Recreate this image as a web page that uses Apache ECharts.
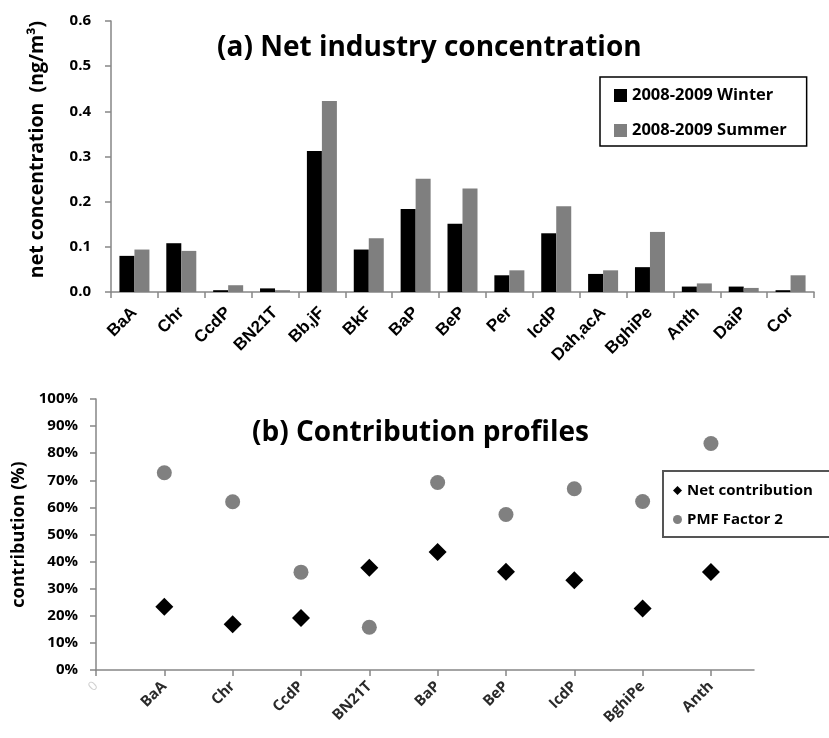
<!DOCTYPE html>
<html>
<head>
<meta charset="utf-8">
<script src="https://cdn.jsdelivr.net/npm/echarts@6/dist/echarts.min.js"></script>
<style>
html,body{margin:0;padding:0;background:#fff;}
#main{width:829px;height:738px;}
</style>
</head>
<body>
<div id="main"></div>
<script>
// ---- Data: panel (a) ----
const compoundsA = ['BaA','Chr','CcdP','BN21T','Bb,jF','BkF','BaP','BeP','Per','IcdP','Dah,acA','BghiPe','Anth','DaiP','Cor'];
const winter = [0.080,0.108,0.004,0.008,0.312,0.094,0.184,0.151,0.037,0.130,0.040,0.055,0.012,0.012,0.004];
const summer = [0.094,0.091,0.015,0.004,0.423,0.119,0.251,0.229,0.048,0.190,0.048,0.133,0.019,0.009,0.037];
const yTicksA = [0,0.1,0.2,0.3,0.4,0.5,0.6];

// ---- Data: panel (b) ----
const compoundsB = ['BaA','Chr','CcdP','BN21T','BaP','BeP','IcdP','BghiPe','Anth'];
const netContribution = [23.3,16.9,19.2,37.7,43.5,36.3,33.1,22.7,36.2];
const pmfFactor2 = [72.8,62.1,36.1,15.8,69.2,57.4,66.9,62.2,83.6];

const F = '"Open Sans", sans-serif';
const FA = '"Liberation Sans", Arial, sans-serif';
const axisGray = '#868686';

const chart = echarts.init(document.getElementById('main'), null, {renderer:'canvas'});

const xPos = compoundsB.map((_, i) => i + 1);
const tickVals = [0].concat(xPos);

chart.setOption({
  backgroundColor: '#ffffff',
  animation: false,
  title: [
    {text: '(a) Net industry concentration', left: 212, top: 29,
     textStyle: {fontFamily: F, fontWeight: 'bold', fontSize: 28, color: '#000'}},
    {text: '(b) Contribution profiles', left: 247, top: 414,
     textStyle: {fontFamily: F, fontWeight: 'bold', fontSize: 28, color: '#000'}}
  ],
  legend: [
    {data: ['2008-2009 Winter','2008-2009 Summer'],
     orient: 'vertical', left: 600, top: 77,
     padding: [10, 20, 7, 14], itemGap: 18, itemWidth: 13, itemHeight: 13,
     borderColor: '#000', borderWidth: 1.5,
     textStyle: {fontFamily: F, fontWeight: 'bold', fontSize: 16.5, color: '#000'},
     icon: 'rect'},
    {data: [{name:'Net contribution', icon:'diamond'},{name:'PMF Factor 2', icon:'circle'}],
     orient: 'vertical', left: 663, top: 471,
     padding: [12, 30, 10, 10], itemGap: 14, itemWidth: 9, itemHeight: 9,
     borderColor: '#555', borderWidth: 2,
     textStyle: {fontFamily: F, fontWeight: 'bold', fontSize: 15, color: '#000'}}
  ],
  grid: [
    {left: 111, right: 15, top: 21, bottom: 446},
    {left: 96, right: 75, top: 399, bottom: 68}
  ],
  xAxis: [
    {type: 'category', gridIndex: 0, data: compoundsA,
     axisLine: {lineStyle: {color: axisGray, width: 1.5}},
     axisTick: {show: true, length: 6, lineStyle: {color: axisGray, width: 1.5}},
     axisLabel: {interval: 0, rotate: 45, margin: 18, color: '#000',
                 fontFamily: FA, fontWeight: 'bold', fontSize: 17,
                 formatter: v => '{c|' + v + '}',
                 rich: {c: {fontFamily: FA, fontWeight: 'bold', fontSize: 17, color: '#000'}}}},
    {type: 'value', gridIndex: 1, min: 0, max: 9.63, interval: 1,
     splitLine: {show: false},
     axisLine: {lineStyle: {color: axisGray, width: 1.5}},
     axisTick: {show: true, length: 6, customValues: tickVals, lineStyle: {color: axisGray, width: 1.5}},
     axisLabel: {rotate: 45, margin: 14, customValues: tickVals,
                 fontFamily: F, fontWeight: 'bold', fontSize: 15, color: '#2a2a2a',
                 formatter: v => v === 0 ? '{f|0}' : '{n|' + compoundsB[Math.round(v) - 1] + '}',
                 rich: {f: {color: '#d0d0d0', fontSize: 13, fontFamily: F, fontWeight: 'normal'},
                        n: {color: '#2a2a2a', fontSize: 15, fontFamily: F, fontWeight: 'bold'}}}}
  ],
  yAxis: [
    {type: 'value', gridIndex: 0, min: yTicksA[0], max: yTicksA[yTicksA.length-1], interval: 0.1,
     name: 'net concentration  (ng/m³)', nameLocation: 'middle', nameGap: 64, nameRotate: 90,
     nameTextStyle: {fontFamily: F, fontWeight: 'bold', fontSize: 19.5, color: '#000', padding: [0, 0, 0, 14]},
     splitLine: {show: false},
     axisLine: {show: true, lineStyle: {color: axisGray, width: 1.5}},
     axisTick: {show: true, length: 6, lineStyle: {color: axisGray, width: 1.5}},
     axisLabel: {margin: 20, color: '#000', fontFamily: F, fontWeight: 'bold', fontSize: 15,
                 formatter: v => v.toFixed(1)}},
    {type: 'value', gridIndex: 1, min: 0, max: 100, interval: 10,
     name: 'contribution (%)', nameLocation: 'middle', nameGap: 62, nameRotate: 90,
     nameTextStyle: {fontFamily: F, fontWeight: 'bold', fontSize: 18, color: '#000'},
     splitLine: {show: false},
     axisLine: {show: true, lineStyle: {color: axisGray, width: 1.5}},
     axisTick: {show: true, length: 6, lineStyle: {color: axisGray, width: 1.5}},
     axisLabel: {margin: 18, color: '#000', fontFamily: F, fontWeight: 'bold', fontSize: 15,
                 formatter: v => v + '%'}}
  ],
  series: [
    {name: '2008-2009 Winter', type: 'bar', xAxisIndex: 0, yAxisIndex: 0, data: winter,
     barWidth: 15, barGap: '0%', itemStyle: {color: '#000000'}},
    {name: '2008-2009 Summer', type: 'bar', xAxisIndex: 0, yAxisIndex: 0, data: summer,
     barWidth: 15, barGap: '0%', itemStyle: {color: '#7f7f7f'}},
    {name: 'Net contribution', type: 'scatter', xAxisIndex: 1, yAxisIndex: 1,
     data: xPos.map((x, i) => [x, netContribution[i]]),
     symbol: 'diamond', symbolSize: [18, 18], itemStyle: {color: '#000', opacity: 1}},
    {name: 'PMF Factor 2', type: 'scatter', xAxisIndex: 1, yAxisIndex: 1,
     data: xPos.map((x, i) => [x, pmfFactor2[i]]),
     symbol: 'circle', symbolSize: 15, itemStyle: {color: '#808080', opacity: 1}}
  ]
});
</script>
</body>
</html>
